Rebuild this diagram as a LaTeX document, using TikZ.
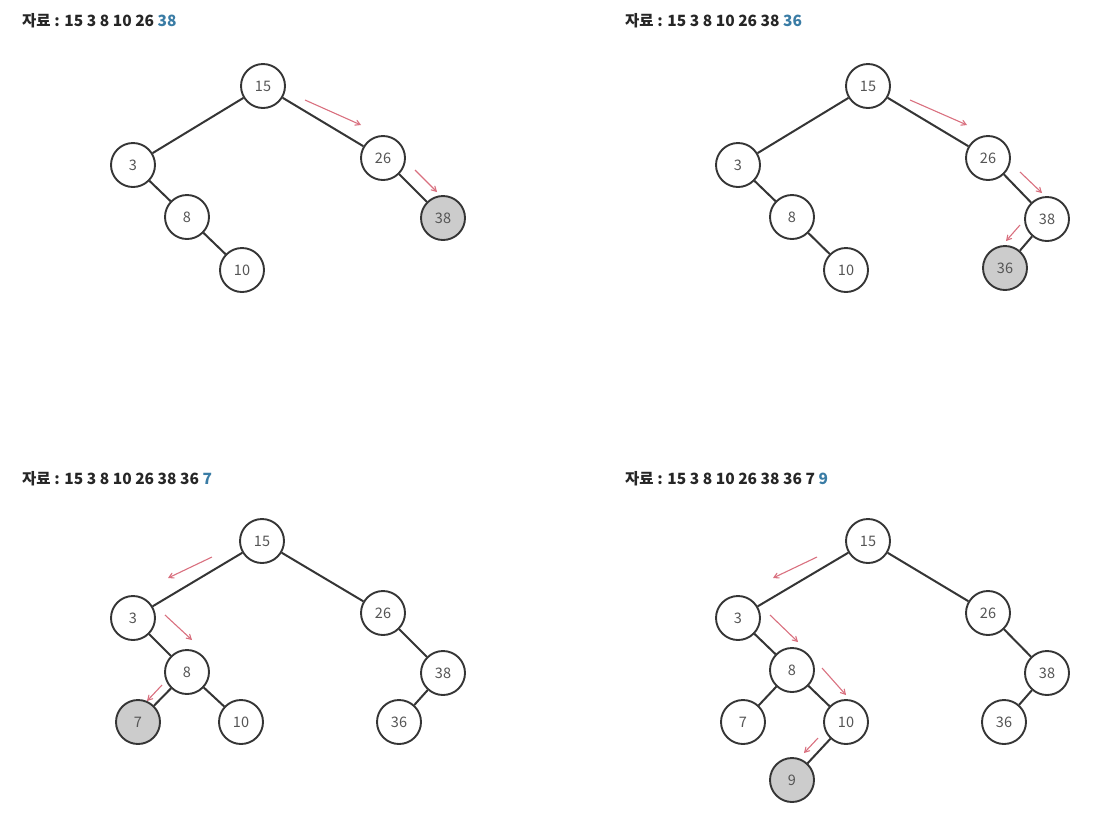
\documentclass[tikz,border=0pt]{standalone}
\usepackage{fontspec}
\setmainfont{Noto Sans CJK KR}
\usepackage{xcolor}
\usetikzlibrary{arrows}
\definecolor{edgegray}{HTML}{353535}
\definecolor{textgray}{HTML}{555555}
\definecolor{newgray}{HTML}{CCCCCC}
\definecolor{walkred}{HTML}{D9707F}
\definecolor{newblue}{HTML}{3A7CA5}

\begin{document}
\begin{tikzpicture}[x=1pt,y=-1pt,
  treenode/.style={circle,draw=edgegray,line width=1.9pt,fill=white,minimum size=44pt,inner sep=0pt,text=textgray,font=\fontsize{14.5}{14.5}\selectfont},
  newnode/.style={treenode,fill=newgray},
  branch/.style={draw=edgegray,line width=2pt},
  walk/.style={-angle 60,draw=walkred,line width=1.1pt},
  caption/.style={anchor=base west,inner sep=0pt,text=black!85,font=\bfseries\fontsize{15.5}{15.5}\selectfont}]

\useasboundingbox (0,0) rectangle (1115,815);

% 38 inserted
\node[caption] (capA) at (22,26) {자료 : 15 3 8 10 26 \textcolor{newblue}{38}};
\node[treenode] (a15) at (263,86) {15};
\node[treenode] (a3) at (133,165) {3};
\node[treenode] (a26) at (383,158) {26};
\node[treenode] (a8) at (187,217) {8};
\node[newnode] (a38) at (443,218) {38};
\node[treenode] (a10) at (242,270) {10};
\draw[branch] (a15) -- (a3);
\draw[branch] (a15) -- (a26);
\draw[branch] (a3) -- (a8);
\draw[branch] (a8) -- (a10);
\draw[branch] (a26) -- (a38);
\draw[walk] (305,100) -- (361,125);
\draw[walk] (415,170) -- (437,192);

% 36 inserted
\node[caption] (capB) at (625,26) {자료 : 15 3 8 10 26 38 \textcolor{newblue}{36}};
\node[treenode] (b15) at (868,86) {15};
\node[treenode] (b3) at (738,165) {3};
\node[treenode] (b26) at (988,158) {26};
\node[treenode] (b8) at (792,217) {8};
\node[treenode] (b38) at (1047,219) {38};
\node[treenode] (b10) at (846,270) {10};
\node[newnode] (b36) at (1005,268) {36};
\draw[branch] (b15) -- (b3);
\draw[branch] (b15) -- (b26);
\draw[branch] (b3) -- (b8);
\draw[branch] (b8) -- (b10);
\draw[branch] (b26) -- (b38);
\draw[branch] (b38) -- (b36);
\draw[walk] (910,100) -- (967,125);
\draw[walk] (1020,172) -- (1042,193);
\draw[walk] (1020,225) -- (1006,241);

% 7 inserted
\node[caption] (capC) at (22,484) {자료 : 15 3 8 10 26 38 36 \textcolor{newblue}{7}};
\node[treenode] (c15) at (262,541) {15};
\node[treenode] (c3) at (133,618) {3};
\node[treenode] (c26) at (383,613) {26};
\node[treenode] (c8) at (187,672) {8};
\node[treenode] (c38) at (443,673) {38};
\node[newnode] (c7) at (138,722) {7};
\node[treenode] (c10) at (241,722) {10};
\node[treenode] (c36) at (399,722) {36};
\draw[branch] (c15) -- (c3);
\draw[branch] (c15) -- (c26);
\draw[branch] (c3) -- (c8);
\draw[branch] (c8) -- (c7);
\draw[branch] (c8) -- (c10);
\draw[branch] (c26) -- (c38);
\draw[branch] (c38) -- (c36);
\draw[walk] (212,557) -- (168,578);
\draw[walk] (165,615) -- (192,640);
\draw[walk] (162,685) -- (147,701);

% 9 inserted
\node[caption] (capD) at (625,484) {자료 : 15 3 8 10 26 38 36 7 \textcolor{newblue}{9}};
\node[treenode] (d15) at (868,541) {15};
\node[treenode] (d3) at (738,618) {3};
\node[treenode] (d26) at (988,613) {26};
\node[treenode] (d8) at (792,670) {8};
\node[treenode] (d38) at (1047,673) {38};
\node[treenode] (d7) at (743,722) {7};
\node[treenode] (d10) at (846,722) {10};
\node[treenode] (d36) at (1004,722) {36};
\node[newnode] (d9) at (792,780) {9};
\draw[branch] (d15) -- (d3);
\draw[branch] (d15) -- (d26);
\draw[branch] (d3) -- (d8);
\draw[branch] (d8) -- (d7);
\draw[branch] (d8) -- (d10);
\draw[branch] (d10) -- (d9);
\draw[branch] (d26) -- (d38);
\draw[branch] (d38) -- (d36);
\draw[walk] (817,557) -- (773,578);
\draw[walk] (770,615) -- (798,642);
\draw[walk] (822,668) -- (846,695);
\draw[walk] (818,738) -- (804,753);

\end{tikzpicture}
\end{document}
